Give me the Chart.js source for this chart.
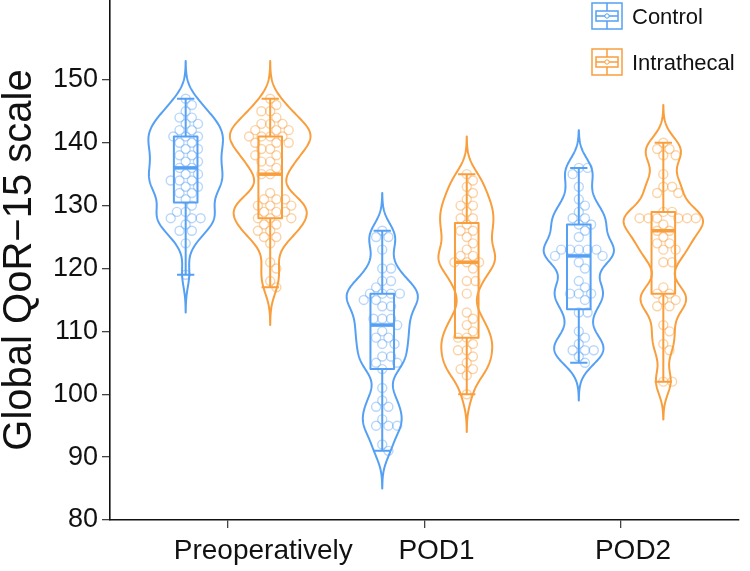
<!DOCTYPE html>
<html>
<head>
<meta charset="utf-8">
<script src="https://cdn.jsdelivr.net/npm/chart.js@4.4.1/dist/chart.umd.min.js"></script>
<style>
  html, body { margin: 0; padding: 0; background: #fff; }
</style>
</head>
<body>
<canvas id="c" width="750" height="571"></canvas>
<script>
// 小提琴图 + 箱线图 + 蜂群散点（基于 Chart.js 的比例尺自绘）

const timepoints = ['      Preoperatively', 'POD1', 'POD2'];
const groups = ['Control', 'Intrathecal'];
const groupColors = ['#55a0f4', '#f99e3c'];
const groupPointColors = ['rgba(85, 160, 244, 0.42)', 'rgba(249, 158, 60, 0.45)'];
const yTicks = [80, 90, 100, 110, 120, 130, 140, 150];

// 各组原始评分
const controlPre = [147,146,145,144,144,143,143,142,142,141,141,141,140,140,139,139,138,138,137,137,136,136,135,135,134,134,134,133,133,132,132,131,130,129,129,128,128,128,127,126,126,124,119];
const intrathecalPre = [147,146,145,145,144,143,143,143,142,142,142,141,141,141,141,140,140,140,139,139,138,138,137,137,136,135,135,132,131,131,131,130,130,130,129,129,129,128,128,128,127,127,126,126,125,125,124,121,120,118,117];
const controlPOD1 = [126,125,125,123,120,120,118,118,117,116,116,116,116,115,115,114,114,112,112,112,111,110,109,109,108,108,106,106,105,105,104,101,99,98,98,96,95,95,95,92,91];
const intrathecalPOD1 = [135,134,133,132,131,130,130,129,128,128,127,126,126,125,124,123,122,122,121,121,121,120,118,118,116,113,112,111,110,109,109,108,107,107,106,105,104,104,103,100];
const controlPOD2 = [136,136,135,133,131,130,129,128,128,127,127,126,125,123,123,123,123,123,122,122,121,120,118,117,116,116,116,115,113,113,110,109,108,107,107,107,106,105];
const intrathecalPOD2 = [140,139,139,138,138,135,133,133,132,132,129,129,128,128,128,128,128,128,127,126,126,125,124,124,123,123,121,121,117,116,116,115,115,114,114,111,110,108,107,102,102];

const seriesByGroup = [
  [controlPre, controlPOD1, controlPOD2],
  [intrathecalPre, intrathecalPOD1, intrathecalPOD2]
];

const BANDWIDTH = 2;        // 核密度带宽
const DODGE = [-0.215, 0.215];
const VIOLIN_HALF = 0.205;  // 最宽处半宽（x 轴单位）
const BOX_HALF = 0.06;
const CAP_HALF = 0.044;
const FONT = '"Liberation Sans", Arial, Helvetica, sans-serif';

// ===== 统计 =====
function quantile(sorted, p) {
  const h = (sorted.length - 1) * p;
  const lo = Math.floor(h);
  const hi = Math.ceil(h);
  return sorted[lo] + (sorted[hi] - sorted[lo]) * (h - lo);
}

function boxStats(values) {
  const s = [...values].sort((a, b) => a - b);
  const q1 = quantile(s, 0.25), med = quantile(s, 0.5), q3 = quantile(s, 0.75);
  const iqr = q3 - q1;
  const lo = s.find(v => v >= q1 - 1.5 * iqr);
  const hi = [...s].reverse().find(v => v <= q3 + 1.5 * iqr);
  return { q1, med, q3, lo, hi };
}

function kde(values, bw) {
  const min = Math.min(...values) - 3 * bw;
  const max = Math.max(...values) + 3 * bw;
  const n = 256;
  const grid = [], dens = [];
  for (let k = 0; k < n; k++) {
    const v = min + (max - min) * k / (n - 1);
    let s = 0;
    values.forEach(x => { const z = (v - x) / bw; s += Math.exp(-0.5 * z * z); });
    grid.push(v);
    dens.push(s / (values.length * bw * Math.sqrt(2 * Math.PI)));
  }
  return { grid, dens };
}

const densities = seriesByGroup.map(list => list.map(vals => kde(vals, BANDWIDTH)));
const maxDensity = Math.max(...densities.flat().map(d => Math.max(...d.dens)));
const stats = seriesByGroup.map(list => list.map(vals => boxStats(vals)));

// 蜂群布局：按 y 像素逐个放置，取离中心最近且不重叠的位置
function swarmOffsets(ys, d) {
  const order = ys.map((_, i) => i).sort((a, b) => ys[a] - ys[b]);
  const placed = [];
  const xs = new Array(ys.length).fill(0);
  order.forEach(i => {
    const y = ys[i];
    const near = placed.filter(p => Math.abs(p.y - y) < d);
    const cands = [0];
    near.forEach(p => {
      const dx = Math.sqrt(d * d - (p.y - y) * (p.y - y));
      cands.push(p.x + dx, p.x - dx);
    });
    cands.sort((a, b) => Math.abs(a) - Math.abs(b));
    let x = 0;
    for (const c of cands) {
      if (near.every(p => (p.x - c) ** 2 + (p.y - y) ** 2 >= d * d - 0.01)) { x = c; break; }
    }
    placed.push({ x, y });
    xs[i] = x;
  });
  return xs;
}

const ViolinPlugin = {
  id: 'violinLayer',
  afterDatasetsDraw(chart) {
    const { ctx, scales: { x, y } } = chart;
    const unit = x.getPixelForValue(2) - x.getPixelForValue(1);
    ctx.save();
    seriesByGroup.forEach((list, g) => {
      list.forEach((vals, t) => {
        const cx = x.getPixelForValue(t + 1 + DODGE[g]);
        const color = groupColors[g];

        // 小提琴轮廓
        const d = densities[g][t];
        const half = VIOLIN_HALF * unit / maxDensity;
        ctx.beginPath();
        d.grid.forEach((v, k) => {
          const px = cx + d.dens[k] * half, py = y.getPixelForValue(v);
          k ? ctx.lineTo(px, py) : ctx.moveTo(px, py);
        });
        for (let k = d.grid.length - 1; k >= 0; k--) {
          ctx.lineTo(cx - d.dens[k] * half, y.getPixelForValue(d.grid[k]));
        }
        ctx.closePath();
        ctx.strokeStyle = color;
        ctx.lineWidth = 2;
        ctx.lineJoin = 'round';
        ctx.stroke();

        // 散点（空心圆）
        const ys = vals.map(v => y.getPixelForValue(v));
        const xs = swarmOffsets(ys, 8.8);
        ctx.strokeStyle = groupPointColors[g];
        ctx.lineWidth = 1.4;
        ys.forEach((py, i) => {
          ctx.beginPath();
          ctx.arc(cx + xs[i], py, 4.5, 0, Math.PI * 2);
          ctx.stroke();
        });

        // 箱线
        const s = stats[g][t];
        const bw = BOX_HALF * unit, cw = CAP_HALF * unit;
        ctx.strokeStyle = color;
        ctx.lineWidth = 2;
        ctx.beginPath();
        ctx.moveTo(cx, y.getPixelForValue(s.q3)); ctx.lineTo(cx, y.getPixelForValue(s.hi));
        ctx.moveTo(cx, y.getPixelForValue(s.q1)); ctx.lineTo(cx, y.getPixelForValue(s.lo));
        ctx.moveTo(cx - cw, y.getPixelForValue(s.hi)); ctx.lineTo(cx + cw, y.getPixelForValue(s.hi));
        ctx.moveTo(cx - cw, y.getPixelForValue(s.lo)); ctx.lineTo(cx + cw, y.getPixelForValue(s.lo));
        ctx.stroke();
        const top = y.getPixelForValue(s.q3), bot = y.getPixelForValue(s.q1);
        ctx.strokeRect(cx - bw, top, bw * 2, bot - top);
        ctx.lineWidth = 3.5;
        ctx.beginPath();
        ctx.moveTo(cx - bw, y.getPixelForValue(s.med));
        ctx.lineTo(cx + bw, y.getPixelForValue(s.med));
        ctx.stroke();
      });
    });
    ctx.restore();
  }
};

// 右上角图例：带迷你箱线图的方框
const LegendPlugin = {
  id: 'boxLegend',
  afterDraw(chart) {
    const { ctx } = chart;
    ctx.save();
    groups.forEach((name, g) => {
      const x0 = 592, y0 = 3 + g * 46, w = 30, h = 26;
      const c = groupColors[g];
      ctx.strokeStyle = c;
      ctx.lineWidth = 1.5;
      ctx.strokeRect(x0, y0, w, h);
      const mx = x0 + w / 2, my = y0 + h / 2;
      ctx.strokeRect(x0 + 4, my - 5, w - 8, 10);
      ctx.beginPath();
      ctx.moveTo(mx, y0); ctx.lineTo(mx, my - 5);
      ctx.moveTo(mx, my + 5); ctx.lineTo(mx, y0 + h);
      ctx.moveTo(x0 + 4, my); ctx.lineTo(x0 + w - 4, my);
      ctx.stroke();
      ctx.fillStyle = '#fff';
      ctx.beginPath();
      ctx.arc(mx, my, 2.2, 0, Math.PI * 2);
      ctx.fill();
      ctx.lineWidth = 1;
      ctx.stroke();
      ctx.fillStyle = '#111';
      ctx.font = '22px ' + FONT;
      ctx.textAlign = 'left';
      ctx.textBaseline = 'middle';
      ctx.fillText(name, 632, my + 2);
    });
    ctx.restore();
  }
};

new Chart(document.getElementById('c'), {
  type: 'scatter',
  data: { datasets: [] },
  plugins: [ViolinPlugin, LegendPlugin],
  options: {
    responsive: false,
    animation: false,
    devicePixelRatio: 1,
    layout: { padding: { top: 0, right: 11, bottom: 0, left: 0 } },
    plugins: { legend: { display: false }, tooltip: { enabled: false } },
    scales: {
      x: {
        type: 'linear',
        min: 0.4,
        max: 3.6,
        afterBuildTicks: s => { s.ticks = [1, 2, 3].map(v => ({ value: v })); },
        afterFit: s => { s.height = 51; s.paddingLeft = 0; s.paddingRight = 0; },
        ticks: {
          callback: v => timepoints[v - 1],
          color: '#111',
          font: { family: FONT, size: 28 },
          padding: 6,
          labelOffset: 12,
          autoSkip: false,
          maxRotation: 0
        },
        grid: { drawOnChartArea: false, tickLength: 8, color: '#444', lineWidth: 1.3 },
        border: { display: true, color: '#111', width: 1.6 }
      },
      y: {
        type: 'linear',
        min: 80,
        max: 162.7,
        afterBuildTicks: s => { s.ticks = yTicks.map(v => ({ value: v })); },
        afterFit: s => { s.width = 110; s.paddingTop = 0; s.paddingBottom = 0; },
        title: {
          display: true,
          text: 'Global QoR−15 scale',
          color: '#111',
          font: { family: FONT, size: 40, lineHeight: 1 },
          padding: 0
        },
        ticks: {
          color: '#111',
          font: { family: FONT, size: 27 },
          padding: 4
        },
        grid: { drawOnChartArea: false, tickLength: 8, color: '#444', lineWidth: 1.3 },
        border: { display: true, color: '#111', width: 1.6 }
      }
    }
  }
});
</script>
</body>
</html>
